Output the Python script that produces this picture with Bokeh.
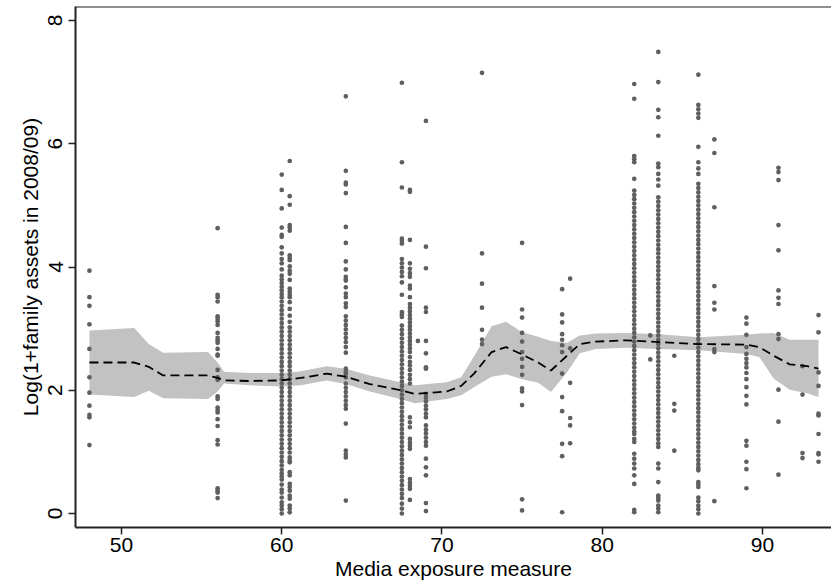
from bokeh.plotting import figure
from bokeh.models import Range1d, Span, FixedTicker
from bokeh.embed import file_html
from bokeh.resources import INLINE

# ---------------- data ----------------
x_ticks = [50, 60, 70, 80, 90]
y_ticks = [0, 2, 4, 6, 8]
x_min, x_max = 47.13, 94.31
y_min, y_max = -0.227, 8.227

# scatter columns (media exposure value -> log assets values)
col_48 = [3.94, 3.51, 3.37, 3.07, 2.67, 2.21, 1.96, 1.75, 1.60, 1.56, 1.11]
col_56 = [4.63, 3.55, 3.51, 3.44, 3.20, 3.16, 3.12, 3.06, 2.93, 2.85, 2.81, 2.77,
          2.67, 2.58, 2.56, 2.33, 2.21, 2.17, 1.90, 1.86, 1.72, 1.68, 1.64, 1.53,
          1.42, 1.19, 1.12, 0.41, 0.37, 0.34, 0.25]
col_60 = [5.50, 5.25, 4.95, 4.64, 4.52, 4.49, 4.32, 4.22, 4.13, 4.06, 3.96, 3.86,
          3.80, 3.74, 3.68, 3.62, 3.56, 3.51, 3.44, 3.37, 3.30, 3.23, 3.16, 3.09,
          3.02, 2.95, 2.88, 2.81, 2.74, 2.67, 2.60, 2.53, 2.46, 2.39, 2.32, 2.25,
          2.18, 2.11, 2.04, 1.97, 1.90, 1.83, 1.76, 1.69, 1.62, 1.55, 1.48, 1.41,
          1.34, 1.27, 1.20, 1.13, 1.06, 0.99, 0.92, 0.85, 0.78, 0.71, 0.65, 0.60,
          0.55, 0.47, 0.39, 0.34, 0.26, 0.18, 0.13, 0.07, 0.00]
col_60_5 = [5.72, 5.15, 5.01, 4.68, 4.64, 4.59, 4.19, 4.15, 4.11, 4.01, 3.94, 3.89,
            3.79, 3.65, 3.60, 3.55, 3.51, 3.43, 3.32, 3.21, 3.11, 3.02, 2.95, 2.88,
            2.81, 2.74, 2.67, 2.60, 2.53, 2.46, 2.39, 2.32, 2.25, 2.18, 2.11, 2.04,
            1.97, 1.90, 1.83, 1.76, 1.69, 1.62, 1.55, 1.48, 1.41, 1.34, 1.27, 1.20,
            1.13, 1.06, 0.99, 0.91, 0.86, 0.83, 0.67, 0.62, 0.48, 0.43, 0.37, 0.29,
            0.24, 0.13, 0.08, 0.02]
col_64 = [6.77, 5.56, 5.37, 5.34, 5.20, 4.65, 4.39, 4.09, 3.96, 3.84, 3.80, 3.78,
          3.67, 3.57, 3.51, 3.41, 3.35, 3.20, 3.13, 3.06, 2.99, 2.92, 2.85, 2.78,
          2.70, 2.61, 2.35, 2.30, 2.27, 2.21, 2.11, 2.04, 1.97, 1.90, 1.83, 1.76,
          1.70, 1.46, 1.02, 0.96, 0.91, 0.21]
col_67_5 = [6.99, 5.70, 5.29, 4.46, 4.42, 4.38, 4.13, 4.06, 3.99, 3.92, 3.85, 3.75,
            3.55, 3.27, 3.23, 3.19, 3.05, 2.98, 2.91, 2.84, 2.77, 2.70, 2.63, 2.56,
            2.49, 2.42, 2.35, 2.28, 2.21, 2.14, 2.07, 2.00, 1.93, 1.86, 1.79, 1.72,
            1.65, 1.58, 1.51, 1.44, 1.37, 1.30, 1.23, 1.16, 1.09, 1.02, 0.95, 0.88,
            0.81, 0.74, 0.67, 0.60, 0.53, 0.46, 0.39, 0.32, 0.25, 0.16, 0.08, 0.00]
col_68 = [5.25, 5.22, 4.44, 4.06, 3.97, 3.90, 3.84, 3.70, 3.65, 3.51, 3.40, 3.34,
          3.28, 3.22, 3.16, 3.10, 3.04, 2.98, 2.92, 2.86, 2.80, 2.74, 2.68, 2.62,
          2.54, 2.46, 2.40, 2.33, 2.25, 2.18, 2.11, 1.56, 1.48, 1.40, 1.21, 1.15,
          1.10, 1.05, 0.56, 0.50, 0.45, 0.40, 0.22]
col_68_5 = [2.80]
col_69 = [6.37, 4.33, 3.98, 3.34, 3.27, 2.80, 2.60, 2.37, 2.35, 1.94, 1.88, 1.82,
          1.75, 1.69, 1.62, 1.56, 1.43, 1.36, 1.30, 1.23, 1.16, 1.10, 0.89, 0.75,
          0.62, 0.17, 0.04]
col_72_5 = [7.15, 4.22, 3.73, 3.34, 2.98, 2.82, 2.75]
col_75 = [4.39, 3.31, 3.18, 2.93, 2.79, 2.62, 2.51, 2.38, 2.25, 2.03, 1.98, 1.76,
          0.23, 0.05]
col_77_5 = [3.64, 3.23, 3.10, 2.91, 2.82, 2.73, 2.62, 2.27, 1.89, 1.66, 1.13, 0.93,
            0.02]
col_78 = [3.81, 2.68, 2.12, 1.55, 1.43, 1.14]
col_82 = [6.97, 6.73, 5.80, 5.75, 5.70, 5.43, 5.24, 5.17, 5.10, 5.03, 4.96, 4.89,
          4.82, 4.75, 4.68, 4.61, 4.54, 4.47, 4.40, 4.33, 4.26, 4.19, 4.12, 4.05,
          3.98, 3.91, 3.84, 3.77, 3.70, 3.63, 3.56, 3.49, 3.42, 3.35, 3.28, 3.21,
          3.14, 3.07, 3.00, 2.93, 2.86, 2.79, 2.72, 2.65, 2.58, 2.51, 2.44, 2.37,
          2.30, 2.23, 2.16, 2.09, 2.02, 1.95, 1.88, 1.81, 1.74, 1.67, 1.60, 1.53,
          1.46, 1.39, 1.33, 1.29, 1.21, 1.16, 0.97, 0.89, 0.81, 0.73, 0.62, 0.48,
          0.06, 0.02]
col_83 = [2.89, 2.50]
col_83_5 = [7.49, 7.00, 6.55, 6.43, 6.13, 5.68, 5.62, 5.51, 5.42, 5.32, 5.13, 5.06,
            4.99, 4.92, 4.85, 4.78, 4.71, 4.64, 4.57, 4.50, 4.43, 4.36, 4.29, 4.22,
            4.15, 4.08, 4.01, 3.94, 3.87, 3.80, 3.73, 3.66, 3.59, 3.52, 3.45, 3.38,
            3.31, 3.24, 3.17, 3.10, 3.03, 2.96, 2.89, 2.82, 2.75, 2.68, 2.61, 2.54,
            2.47, 2.40, 2.33, 2.26, 2.19, 2.12, 2.05, 1.98, 1.91, 1.84, 1.77, 1.70,
            1.63, 1.56, 1.49, 1.42, 1.35, 1.28, 1.21, 1.14, 1.08, 0.81, 0.73, 0.51,
            0.29, 0.25, 0.21, 0.13, 0.08, 0.02]
col_84_5 = [2.56, 1.78, 1.67, 1.02]
col_86 = [7.12, 6.63, 6.56, 6.49, 6.42, 5.95, 5.70, 5.60, 5.51, 5.35, 5.28, 5.21,
          5.14, 5.07, 5.00, 4.93, 4.86, 4.79, 4.72, 4.65, 4.58, 4.51, 4.44, 4.37,
          4.30, 4.23, 4.16, 4.09, 4.02, 3.95, 3.88, 3.81, 3.74, 3.67, 3.60, 3.53,
          3.46, 3.39, 3.32, 3.25, 3.18, 3.11, 3.04, 2.97, 2.90, 2.83, 2.76, 2.69,
          2.62, 2.55, 2.48, 2.41, 2.34, 2.27, 2.20, 2.13, 2.06, 1.99, 1.92, 1.85,
          1.78, 1.71, 1.64, 1.57, 1.50, 1.43, 1.36, 1.29, 1.22, 1.15, 1.08, 1.01,
          0.94, 0.87, 0.80, 0.74, 0.70, 0.51, 0.47, 0.43, 0.26, 0.20, 0.13, 0.07,
          0.00]
col_87 = [6.07, 5.85, 4.97, 3.69, 3.42, 3.31, 2.67, 2.62, 0.20]
col_89 = [3.18, 3.08, 2.90, 2.70, 2.59, 2.51, 2.44, 2.37, 2.28, 2.18, 2.05, 1.91,
          1.77, 1.18, 1.10, 0.84, 0.72, 0.41]
col_91 = [5.61, 5.54, 5.41, 4.68, 4.27, 3.62, 3.50, 3.40, 2.91, 2.83, 2.01, 1.49,
          0.63]
col_92_5 = [2.39, 1.93, 0.98, 0.90]
col_93_5 = [3.22, 2.94, 2.29, 2.07, 1.62, 1.59, 1.29, 0.98, 0.96, 0.84]

# smoothed fit with confidence band
smooth_x = [48.0, 50.8, 51.7, 52.6, 55.4, 56.0, 56.4, 58.0, 60.0, 61.2, 62.8, 64.0,
            65.5, 67.4, 68.3, 70.3, 71.2, 72.0, 73.1, 74.0, 75.0, 76.0, 76.8, 77.8,
            78.6, 79.6, 81.5, 83.6, 86.0, 89.0, 89.8, 90.7, 91.7, 92.8, 93.5]
smooth_fit = [2.45, 2.45, 2.38, 2.24, 2.24, 2.20, 2.16, 2.15, 2.16, 2.20, 2.27, 2.22,
              2.10, 2.00, 1.94, 1.98, 2.07, 2.27, 2.62, 2.70, 2.58, 2.45, 2.32, 2.56,
              2.75, 2.79, 2.81, 2.78, 2.75, 2.74, 2.70, 2.56, 2.42, 2.39, 2.35]
band_upper = [2.97, 3.01, 2.75, 2.61, 2.62, 2.45, 2.30, 2.28, 2.28, 2.31, 2.39, 2.35,
              2.24, 2.13, 2.08, 2.13, 2.21, 2.55, 3.04, 3.11, 2.94, 2.87, 2.80, 2.77,
              2.89, 2.92, 2.93, 2.91, 2.86, 2.90, 2.92, 2.93, 2.82, 2.82, 2.82]
band_lower = [1.93, 1.89, 1.99, 1.87, 1.86, 1.98, 2.11, 2.08, 2.06, 2.08, 2.16, 2.10,
              1.98, 1.86, 1.79, 1.86, 1.92, 2.05, 2.22, 2.26, 2.18, 2.12, 1.97, 2.29,
              2.60, 2.67, 2.69, 2.67, 2.65, 2.59, 2.54, 2.19, 2.01, 1.95, 1.89]

columns = [(48.0, col_48), (56.0, col_56), (60.0, col_60), (60.5, col_60_5),
           (64.0, col_64), (67.5, col_67_5), (68.0, col_68), (68.5, col_68_5),
           (69.0, col_69), (72.5, col_72_5), (75.0, col_75), (77.5, col_77_5),
           (78.0, col_78), (82.0, col_82), (83.0, col_83), (83.5, col_83_5),
           (84.5, col_84_5), (86.0, col_86), (87.0, col_87), (89.0, col_89),
           (91.0, col_91), (92.5, col_92_5), (93.5, col_93_5)]

xs, ys = [], []
for xv, vals in columns:
    xs.extend([xv] * len(vals))
    ys.extend(vals)

# ---------------- plot ----------------
FONT = "Liberation Sans"

p = figure(width=831, height=588, output_backend="svg", toolbar_location=None,
           x_range=Range1d(x_min, x_max), y_range=Range1d(y_min, y_max),
           min_border_left=75, min_border_right=0, min_border_top=6,
           min_border_bottom=61)
p.grid.visible = False
p.outline_line_color = None
p.background_fill_color = "white"
p.border_fill_color = "white"

p.varea(x=smooth_x, y1=band_lower, y2=band_upper, fill_color="#c2c2c2")
p.scatter(xs, ys, size=4.7, color="#5f5f5f", line_width=0)
p.line(smooth_x, smooth_fit, line_color="black", line_width=1.8, line_dash="9 5")

p.add_layout(Span(location=y_max, dimension="width", line_color="#222222", line_width=2))

p.xaxis.ticker = FixedTicker(ticks=x_ticks)
p.yaxis.ticker = FixedTicker(ticks=y_ticks)
for ax in (p.xaxis, p.yaxis):
    ax.minor_tick_line_color = None
    ax.major_tick_out = 7
    ax.major_tick_in = 0
    ax.major_tick_line_width = 1.5
    ax.major_tick_line_color = "#222222"
    ax.axis_line_width = 2
    ax.axis_line_color = "#222222"
    ax.major_label_text_font = FONT
    ax.major_label_text_font_size = "21px"
    ax.major_label_text_color = "black"
    ax.axis_label_text_font = FONT
    ax.axis_label_text_font_size = "21px"
    ax.axis_label_text_font_style = "normal"
    ax.axis_label_text_color = "black"

p.xaxis.axis_label = "Media exposure measure"
p.yaxis.axis_label = "Log(1+family assets in 2008/09)"
p.yaxis.major_label_orientation = "vertical"
p.xaxis.major_label_standoff = 3
p.xaxis.axis_label_standoff = 2
p.yaxis.major_label_standoff = 6
p.yaxis.axis_label_standoff = 4

open("out.html", "w").write(file_html(p, INLINE))
